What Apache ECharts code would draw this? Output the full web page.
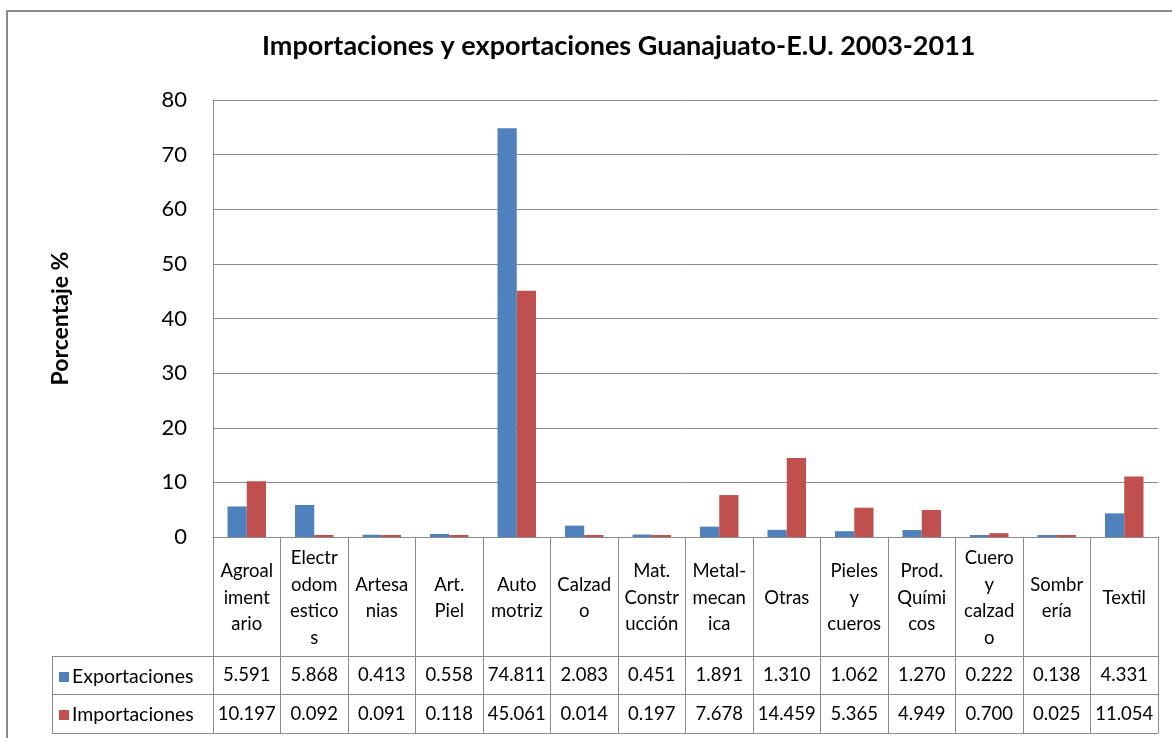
<!DOCTYPE html>
<html>
<head>
<meta charset="utf-8">
<script src="https://cdn.jsdelivr.net/npm/echarts@6/dist/echarts.min.js"></script>
<style>
html,body{margin:0;padding:0;background:#fff;}
#c{width:1172px;height:738px;}
</style>
</head>
<body>
<div id="c"></div>
<script>
// ---- data ----
const categories = ["Agroalimentario","Electrodomesticos","Artesanias","Art. Piel","Automotriz","Calzado","Mat. Construcción","Metal-mecanica","Otras","Pieles y cueros","Prod. Químicos","Cuero y calzado","Sombrería","Textil"];
const categoryLabels = ["Agroal\niment\nario","Electr\nodom\nestico\ns","Artesa\nnias","Art.\nPiel","Auto\nmotriz","Calzad\no","Mat.\nConstr\nucción","Metal-\nmecan\nica","Otras","Pieles\ny\ncueros","Prod.\nQuími\ncos","Cuero\ny\ncalzad\no","Sombr\nería","Textil"];
const exportaciones = [5.591,5.868,0.413,0.558,74.811,2.083,0.451,1.891,1.310,1.062,1.270,0.222,0.138,4.331];
const importaciones = [10.197,0.092,0.091,0.118,45.061,0.014,0.197,7.678,14.459,5.365,4.949,0.700,0.025,11.054];
const yTicks = [0,10,20,30,40,50,60,70,80];

const FONT = 'Lato, "Open Sans", sans-serif';
const GRID_L = 213, GRID_R = 1158, GRID_T = 100, GRID_B = 537;
const lineColor = '#8a8a8a';
const blue = '#4F81BD', red = '#C0504D';

const chart = echarts.init(document.getElementById('c'), null, {renderer:'canvas'});

function tableAxis(offset, tickLen, margin, formatter, showTicks, showLabels){
  return {
    type:'category', data:categories, gridIndex:0, position:'bottom', offset:offset,
    boundaryGap:true,
    axisLine:{show:true, lineStyle:{color:lineColor, width:1}},
    axisTick:{show:showTicks, length:tickLen, interval:0, lineStyle:{color:lineColor, width:1}},
    axisLabel:{show:showLabels, interval:0, margin:margin, verticalAlign:'middle', align:'center',
      fontFamily:FONT, fontSize:18.5, color:'#000', lineHeight:26.5, formatter:formatter},
    splitLine:{show:false}
  };
}

const option = {
  backgroundColor:'#fff',
  animation:false,
  title:{
    text:'Importaciones y exportaciones Guanajuato-E.U. 2003-2011',
    left:257, top:28,
    textStyle:{fontFamily:FONT, fontSize:27, fontWeight:'bold', color:'#000'}
  },
  legend:{
    data:['Exportaciones','Importaciones'],
    orient:'vertical', left:54, top:661,
    itemWidth:10, itemHeight:10, itemGap:16, icon:'rect',
    textStyle:{fontFamily:FONT, fontSize:19.5, color:'#000', lineHeight:22, padding:[0,0,0,-2]}
  },
  grid:{left:GRID_L, right:1172-GRID_R, top:GRID_T, bottom:738-GRID_B, containLabel:false},
  xAxis:[
    tableAxis(0, 119, 61, (v,i)=>categoryLabels[i], true, true),
    tableAxis(119, 38, 19, (v,i)=>exportaciones[i].toFixed(3), true, true),
    tableAxis(157, 39, 20, (v,i)=>importaciones[i].toFixed(3), true, true),
    tableAxis(196, 0, 0, ()=>'', false, false)
  ],
  yAxis:{
    type:'value', min:yTicks[0], max:yTicks[yTicks.length-1], interval:yTicks[1]-yTicks[0],
    name:'Porcentaje %', nameLocation:'middle', nameRotate:90, nameGap:141,
    nameTextStyle:{fontFamily:FONT, fontSize:23, fontWeight:'bold', color:'#000'},
    axisLine:{show:true, lineStyle:{color:lineColor, width:1}},
    axisTick:{show:false},
    axisLabel:{fontFamily:FONT, fontSize:22, color:'#000', margin:26},
    splitLine:{show:true, lineStyle:{color:lineColor, width:1}}
  },
  series:[
    {name:'Exportaciones', type:'bar', data:exportaciones, xAxisIndex:0, barMinHeight:2,
      itemStyle:{color:blue}, barGap:'0%', barCategoryGap:'43%'},
    {name:'Importaciones', type:'bar', data:importaciones, xAxisIndex:0, barMinHeight:2,
      itemStyle:{color:red}, barGap:'0%', barCategoryGap:'43%'}
  ],
  graphic:[
    // outer chart border
    {type:'rect', shape:{x:7, y:11, width:1200, height:800}, style:{fill:'none', stroke:'#8c8c8c', lineWidth:2}, silent:true},
    // legend column of the data table
    {type:'line', shape:{x1:52, y1:656.5, x2:GRID_L, y2:656.5}, style:{stroke:lineColor, lineWidth:1}, silent:true},
    {type:'line', shape:{x1:52, y1:694.5, x2:GRID_L, y2:694.5}, style:{stroke:lineColor, lineWidth:1}, silent:true},
    {type:'line', shape:{x1:52, y1:733.5, x2:GRID_L, y2:733.5}, style:{stroke:lineColor, lineWidth:1}, silent:true},
    {type:'line', shape:{x1:52.5, y1:656, x2:52.5, y2:734}, style:{stroke:lineColor, lineWidth:1}, silent:true}
  ]
};
chart.setOption(option);
</script>
</body>
</html>
